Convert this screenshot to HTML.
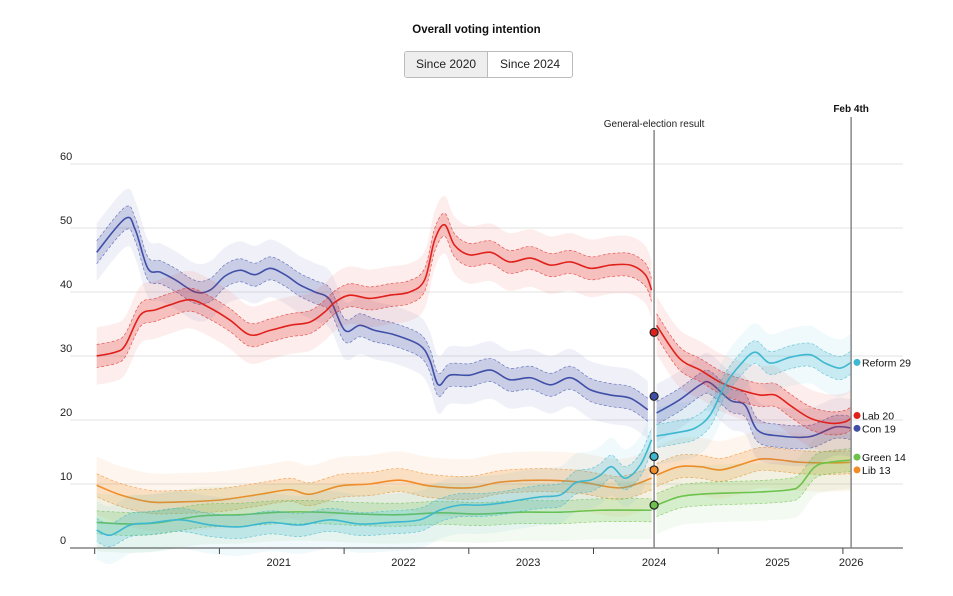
<!DOCTYPE html>
<html><head><meta charset="utf-8">
<style>
body{margin:0;background:#fff;font-family:"Liberation Sans",sans-serif;}
#wrap{position:relative;width:953px;height:596px;overflow:hidden;}
.title{position:absolute;top:24px;left:0;width:953px;text-align:center;font-weight:bold;font-size:11.5px;color:#111;}
.seg{position:absolute;left:404px;top:51px;height:25px;display:flex;border:1px solid #bbb;border-radius:3px;overflow:hidden;font-size:12px;}
.seg div{padding:0 12px;line-height:25px;color:#222;}
.seg .on{background:#eee;border-right:1px solid #bbb;padding:0 11px;}
svg{position:absolute;left:0;top:0;}
</style></head><body>
<div id="wrap">
<div class="title">Overall voting intention</div>
<div class="seg">
<div class="on">Since 2020</div>
<div>Since 2024</div>
</div>
<svg id="chart" width="953" height="596"></svg>
</div>
<script>
const yTicks=[0,10,20,30,40,50,60];
const xTickYears=[2020,2021,2022,2023,2024,2025,2026];
const xLabels=["2021","2022","2023","2024","2025","2026"];
const xLabelTimes=[2021.5,2022.5,2023.5,2024.51,2025.5,2026.09];
const electionT=2024.51, nowT=2026.09;
const parties=["Reform","Lab","Con","Green","Lib"];
const colors={Con:"#3f4fa8",Lab:"#e0201b",Reform:"#3db8d0",Green:"#6cc24a",Lib:"#f28c28"};
const latest={Reform:29,Lab:20,Con:19,Green:14,Lib:13};
const electionResult={Lab:33.7,Con:23.7,Reform:14.3,Lib:12.2,Green:6.7};
const conPreT=[2020.04,2020.27,2020.35,2020.45,2020.55,2020.67,2020.83,2020.95,2021.07,2021.19,2021.31,2021.43,2021.55,2021.67,2021.79,2021.91,2022.03,2022.15,2022.27,2022.43,2022.63,2022.71,2022.78,2022.87,2023.03,2023.20,2023.35,2023.52,2023.68,2023.84,2024.0,2024.16,2024.32,2024.46];
const conPreV=[46.2,51.5,49.7,43.7,43.1,41.9,40,40.3,42.5,43.4,42.7,43.7,42.7,41.1,40,38.8,34,34.8,34,33.3,31.7,29.4,25.5,27,27,27.8,26.3,26.6,25.5,26.6,24.7,23.9,23.4,21.6];
const conPostT=[2024.53,2024.71,2024.88,2024.96,2025.12,2025.24,2025.34,2025.52,2025.76,2025.96,2026.09];
const conPostV=[21.1,23.1,25.5,25.8,23.1,22.3,18.4,17.5,17.4,18.9,18.75];
const labPreT=[2020.04,2020.19,2020.27,2020.39,2020.51,2020.63,2020.79,2020.95,2021.11,2021.27,2021.43,2021.59,2021.75,2021.87,2021.95,2022.07,2022.23,2022.39,2022.55,2022.67,2022.75,2022.83,2022.91,2023.03,2023.20,2023.35,2023.52,2023.68,2023.84,2024.0,2024.16,2024.32,2024.44,2024.49];
const labPreV=[30,30.6,31.7,36.4,37.2,38,38.8,37.5,35.6,33.3,34,34.8,35.3,36.9,38.4,39.5,39,39.5,40,41.9,48.1,50.5,47.3,45.8,46.2,44.7,45.3,44.2,44.7,43.7,44.2,44.2,42.7,40.3];
const labPostT=[2024.53,2024.71,2024.88,2025.04,2025.20,2025.36,2025.48,2025.60,2025.76,2025.92,2026.04,2026.09];
const labPostV=[34.8,29.7,27.8,25.9,24.7,23.9,23.9,22.3,20.3,19.5,19.7,20.3];
const refPreT=[2020.04,2020.15,2020.31,2020.47,2020.71,2020.95,2021.19,2021.43,2021.67,2021.91,2022.15,2022.39,2022.63,2022.79,2022.95,2023.11,2023.28,2023.43,2023.60,2023.76,2023.88,2024.0,2024.08,2024.17,2024.28,2024.40,2024.49];
const refPreV=[2.8,2,3.6,3.9,4.4,3.6,3.3,4,3.6,4.4,3.75,4,4.4,5.9,6.7,6.7,7,7.5,8,8.3,10.2,10.6,11.4,12.7,10.9,13,16.9];
const refPostT=[2024.53,2024.71,2024.84,2024.96,2025.08,2025.20,2025.32,2025.44,2025.60,2025.76,2025.88,2026.0,2026.09];
const refPostV=[17.5,18.1,18.75,20.8,25.5,28.6,30.6,28.9,29.8,30.2,28.9,28.1,29];
const grnPreT=[2020.04,2020.31,2020.55,2020.87,2021.19,2021.51,2021.83,2022.15,2022.47,2022.79,2023.11,2023.43,2023.76,2024.08,2024.49];
const grnPreV=[4,3.75,4,5,5.2,5.6,5.6,5.3,5.2,5.5,5.3,5.6,5.6,5.9,5.9];
const grnPostT=[2024.53,2024.71,2024.88,2025.12,2025.36,2025.60,2025.68,2025.80,2025.92,2026.09];
const grnPostV=[6.7,8,8.4,8.6,8.75,9.1,9.8,12.7,13.4,13.75];
const libPreT=[2020.04,2020.23,2020.47,2020.71,2021.03,2021.35,2021.59,2021.75,2021.99,2022.23,2022.47,2022.71,2023.03,2023.28,2023.60,2023.92,2024.24,2024.49];
const libPreV=[9.8,8.3,7.2,7.2,7.5,8.4,9.1,8.4,9.7,10,10.6,9.7,9.4,10.3,10.6,10.3,9.4,10.9];
const libPostT=[2024.53,2024.71,2024.88,2025.04,2025.20,2025.36,2025.52,2025.68,2025.92,2026.09];
const libPostV=[11.4,12.7,12.7,12.2,13,13.9,13.75,13.4,13.3,13.4];
const series={
 Con:[[conPreT,conPreV],[conPostT,conPostV]],
 Lab:[[labPreT,labPreV],[labPostT,labPostV]],
 Reform:[[refPreT,refPreV],[refPostT,refPostV]],
 Green:[[grnPreT,grnPreV],[grnPostT,grnPostV]],
 Lib:[[libPreT,libPreV],[libPostT,libPostV]]
};
const NS="http://www.w3.org/2000/svg";
const svg=document.getElementById('chart');
const x=t=>590.5+(t-2024)*124.7;
const y=v=>548-v*6.4;
function el(tag,attrs,parent){const e=document.createElementNS(NS,tag);for(const k in attrs)e.setAttribute(k,attrs[k]);(parent||svg).appendChild(e);return e;}
function smooth(pts){let d="M"+pts[0][0]+","+pts[0][1];for(let i=0;i<pts.length-1;i++){const p0=pts[i-1]||pts[i],p1=pts[i],p2=pts[i+1],p3=pts[i+2]||p2;const c1=[p1[0]+(p2[0]-p0[0])/6,p1[1]+(p2[1]-p0[1])/6],c2=[p2[0]-(p3[0]-p1[0])/6,p2[1]-(p3[1]-p1[1])/6];d+=" C"+c1[0]+","+c1[1]+" "+c2[0]+","+c2[1]+" "+p2[0]+","+p2[1];}return d;}
function smoothNoMove(pts){return smooth(pts).replace(/^M[^C]*/,"L"+pts[0][0]+","+pts[0][1]+" ");}
yTicks.forEach(v=>{
 if(v>0){const g=el('line',{x1:70,x2:903,y1:y(v),y2:y(v),stroke:'#e3e3e3','stroke-width':1});}
 const t=el('text',{x:60,y:y(v)-4,'font-size':11,fill:'#222'});t.textContent=v;
 
 
});
parties.slice().reverse().forEach(p=>{
 const c=colors[p];
 series[p].forEach((seg,si)=>{
  const [T,V]=seg;
  const pts=T.map((t,i)=>[x(t),y(V[i])]);
  [[4.5,0.08],[1.8,0.22]].forEach(([w,op],k)=>{
   const up=T.map((t,i)=>[x(t),y(V[i]+w)]);
   const dn=T.map((t,i)=>[x(t),y(V[i]-w)]).reverse();
   const b=el('path',{d:smooth(up)+" "+smoothNoMove(dn)+" Z",fill:c,opacity:op});
   
   
   if(k){[up,dn].forEach(arr=>{const e=el('path',{d:smooth(arr),fill:'none',stroke:c,'stroke-width':0.7,'stroke-dasharray':'3,2',opacity:0.7});
    
    });}
  });
  const l=el('path',{d:smooth(pts),fill:'none',stroke:c,'stroke-width':1.6});
  
  
 });
});
const ax=el('line',{x1:70,x2:903,y1:548,y2:548,stroke:'#444','stroke-width':1});


xTickYears.forEach(t=>{const k=el('line',{x1:x(t)+3,x2:x(t)+3,y1:548,y2:554,stroke:'#444'});
 
 });
xLabels.forEach((s,i)=>{const t=el('text',{x:x(xLabelTimes[i]),y:566,'font-size':11,'text-anchor':'middle',fill:'#222'});t.textContent=s;
 
 });
const e1=el('line',{x1:x(electionT),x2:x(electionT),y1:130,y2:548,stroke:'#888','stroke-width':1.5});


const e1t=el('text',{x:x(electionT),y:127,'font-size':10,'text-anchor':'middle',fill:'#222'});e1t.textContent='General-election result';


const e2=el('line',{x1:x(nowT),x2:x(nowT),y1:117,y2:548,stroke:'#888','stroke-width':1.5});


const e2t=el('text',{x:x(nowT),y:112,'font-size':10,'font-weight':'bold','text-anchor':'middle',fill:'#111'});e2t.textContent='Feb 4th';


Object.keys(electionResult).forEach(p=>{const c=el('circle',{cx:x(electionT),cy:y(electionResult[p]),r:4,fill:colors[p],stroke:'#222','stroke-width':1.2});
 
 });
const legY={Reform:29,Lab:20.7,Con:18.7,Green:14.2,Lib:12.2};
parties.forEach(p=>{const yy=y(legY[p]);
 const c=el('circle',{cx:857,cy:yy,r:3.5,fill:colors[p]});
 
 
 const t=el('text',{x:862,y:yy+4,'font-size':10.5,fill:'#111'});t.textContent=p+' '+latest[p];
 
 });
</script>
</body></html>
